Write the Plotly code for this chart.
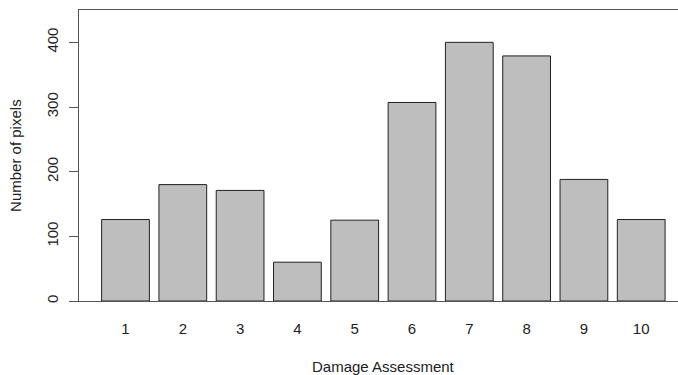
import plotly.graph_objects as go

categories = [1, 2, 3, 4, 5, 6, 7, 8, 9, 10]
tick_labels = ["1", "2", "3", "4", "5", "6", "7", "8", "9", "10"]
pixel_counts = [126, 180, 171, 60, 125, 307, 400, 379, 188, 126]
y_ticks = [0, 100, 200, 300, 400]

FONT = "Liberation Sans, Arial, sans-serif"
TXT = "#222222"
AX = "#555555"

fig = go.Figure(
    go.Bar(
        x=categories,
        y=pixel_counts,
        width=1 / 1.2,
        marker=dict(color="#BEBEBE", line=dict(color="#222222", width=1)),
        hoverinfo="x+y",
    )
)

fig.update_layout(
    width=678,
    height=375,
    margin=dict(l=79, r=0, t=10, b=74),
    paper_bgcolor="white",
    plot_bgcolor="white",
    showlegend=False,
    font=dict(family=FONT, size=15, color=TXT),
    xaxis=dict(
        range=[0.1885, 10.642],
        tickvals=categories,
        ticktext=tick_labels,
        ticks="outside",
        ticklen=14,
        tickcolor="rgba(0,0,0,0)",
        showline=True,
        linecolor=AX,
        linewidth=1,
        mirror=True,
        showgrid=False,
        zeroline=False,
        tickfont=dict(family=FONT, size=15, color=TXT),
    ),
    yaxis=dict(
        range=[0, 450],
        tickvals=y_ticks,
        ticktext=[str(v) for v in y_ticks],
        tickangle=-90,
        ticks="outside",
        ticklen=9,
        tickcolor=AX,
        showline=True,
        linecolor=AX,
        linewidth=1,
        mirror=False,
        showgrid=False,
        zeroline=False,
        ticklabelstandoff=5,
        tickfont=dict(family=FONT, size=15, color=TXT),
    ),
    annotations=[
        dict(
            text="Damage Assessment",
            xref="paper", yref="paper",
            x=0.509, y=-0.2234,
            xanchor="center", yanchor="middle",
            showarrow=False,
            font=dict(family=FONT, size=15, color=TXT),
        ),
        dict(
            text="Number of pixels",
            xref="paper", yref="paper",
            x=-0.107, y=0.5017,
            xanchor="center", yanchor="middle",
            textangle=-90,
            showarrow=False,
            font=dict(family=FONT, size=15, color=TXT),
        ),
    ],
)

fig.write_html(
    "out.html",
    config={"displayModeBar": False},
    post_script="document.body.style.margin='0';document.body.style.padding='0';",
)
